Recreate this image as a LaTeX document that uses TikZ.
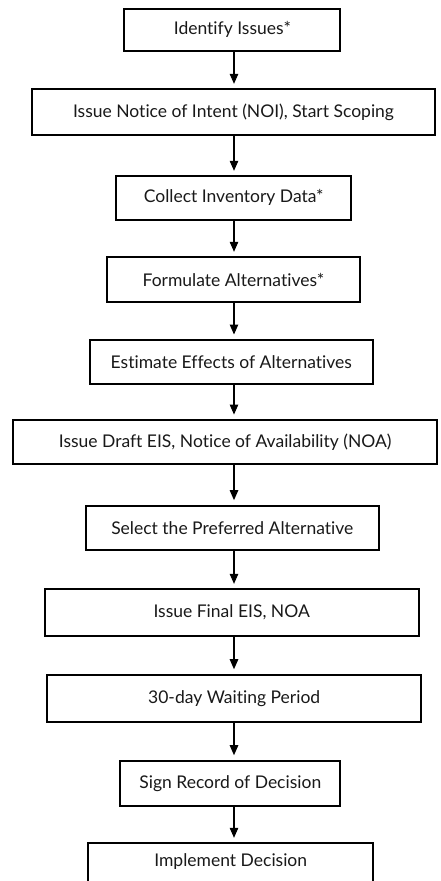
\documentclass[tikz,border=0pt]{standalone}
\usepackage{fontspec}
\setmainfont{Lato}[Ligatures={NoCommon,NoRare}]
\usetikzlibrary{arrows.meta}
\begin{document}
\begin{tikzpicture}[x=1pt,y=-1pt,
  stepbox/.style={draw=black, line width=2pt, inner sep=0pt, font=\fontsize{17.5}{21}\selectfont, text=black!90},
  flow/.style={-{Triangle[width=8.5pt,length=10pt]}, line width=1.1pt, shorten >=4.5pt}]
\useasboundingbox (0,0) rectangle (441,881);
\clip (0,0) rectangle (441,881);
\coordinate (ax) at (234,0);
\node[stepbox, minimum width=216pt, minimum height=42.5pt] (n1) at (232.4,29.8) {Identify Issues*};
\node[stepbox, minimum width=402.4pt, minimum height=45.7pt] (n2) at (233.5,112.2) {Issue Notice of Intent (NOI), Start Scoping};
\node[stepbox, minimum width=234.7pt, minimum height=43.2pt] (n3) at (233.7,197.9) {Collect Inventory Data*};
\node[stepbox, minimum width=252.4pt, minimum height=44.4pt] (n4) at (233.5,279.5) {Formulate Alternatives*};
\node[stepbox, minimum width=283.3pt, minimum height=44pt] (n5) at (231.3,362) {Estimate Effects of Alternatives};
\node[stepbox, minimum width=423.7pt, minimum height=44.3pt] (n6) at (225.2,442.2) {Issue Draft EIS, Notice of Availability (NOA)};
\node[stepbox, minimum width=292.7pt, minimum height=44.3pt] (n7) at (232.3,527.8) {Select the Preferred Alternative};
\node[stepbox, minimum width=374pt, minimum height=46.7pt] (n8) at (231.7,612.7) {Issue Final EIS, NOA};
\node[stepbox, minimum width=373.7pt, minimum height=47pt] (n9) at (234.2,698.2) {30-day Waiting Period};
\node[stepbox, minimum width=220pt, minimum height=45pt] (n10) at (230.3,783.2) {Sign Record of Decision};
\node[stepbox, minimum width=284.7pt, minimum height=47pt] (n11) at (230.7,866.8) {};
\node[font=\fontsize{17.5}{21}\selectfont, text=black!90, inner sep=0pt] (t11) at (230.7,862) {Implement Decision};
\foreach \a/\b in {n1/n2,n2/n3,n3/n4,n4/n5,n5/n6,n6/n7,n7/n8,n8/n9,n9/n10,n10/n11}
  \draw[flow] (\a.south -| ax) -- (\b.north -| ax);
\end{tikzpicture}
\end{document}
